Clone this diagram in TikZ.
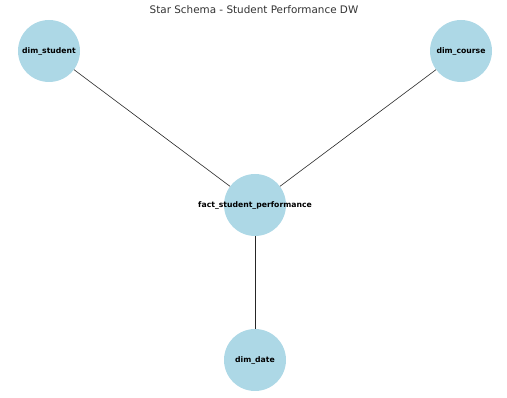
\documentclass[tikz,border=0pt]{standalone}
\usepackage{fontspec}
\setmainfont{DejaVu Sans}
\definecolor{tablefill}{HTML}{ADD8E6}
\tikzset{
  table/.style={circle, fill=tablefill, minimum size=62pt, inner sep=0pt, font=\bfseries\fontsize{7.7}{9}\selectfont},
  link/.style={draw=black!85, line width=0.6pt}
}

\begin{document}
\begin{tikzpicture}[x=1pt, y=-1pt]
  \useasboundingbox (0,0) rectangle (507,398);
  \node[font=\fontsize{10.4}{12}\selectfont, text=black!80] (title) at (254,10) {Star Schema - Student Performance DW};
  % fact table in the middle, dimensions around it
  \node[table] (fact) at (255,205) {\makebox[0pt]{fact\_student\_performance}};
  \node[table] (student) at (49,51) {\makebox[0pt]{dim\_student}};
  \node[table] (course) at (461,51) {\makebox[0pt]{dim\_course}};
  \node[table] (date) at (255,360) {\makebox[0pt]{dim\_date}};
  \draw[link] (fact) -- (student);
  \draw[link] (fact) -- (course);
  \draw[link] (fact) -- (date);
\end{tikzpicture}
\end{document}
